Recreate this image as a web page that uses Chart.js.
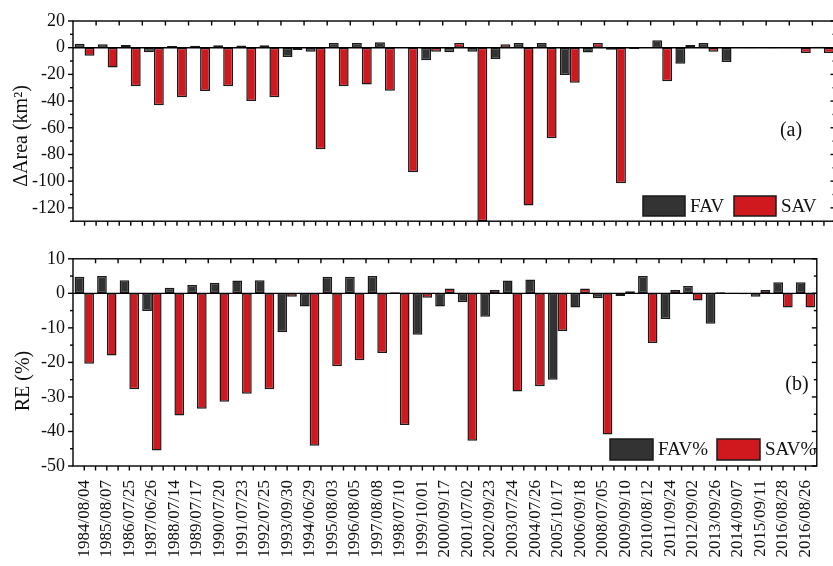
<!DOCTYPE html>
<html>
<head>
<meta charset="utf-8">
<script src="https://cdn.jsdelivr.net/npm/chart.js@4/dist/chart.umd.min.js"></script>
<style>
  html, body { margin: 0; padding: 0; background: #fff; overflow: hidden; }
  #wrap { position: relative; width: 833px; height: 566px; overflow: hidden; background: #fff; }
  #ca { position: absolute; left: 0; top: 0; }
  #cb { position: absolute; left: 0; top: 240px; }
</style>
</head>
<body>
<div id="wrap">
  <canvas id="ca" width="840" height="240"></canvas>
  <canvas id="cb" width="840" height="326"></canvas>
</div>
<script>
// Acquisition dates
const dates = [
  '1984/08/04','1985/08/07','1986/07/25','1987/06/26','1988/07/14','1989/07/17',
  '1990/07/20','1991/07/23','1992/07/25','1993/09/30','1994/06/29','1995/08/03',
  '1996/08/05','1997/08/08','1998/07/10','1999/10/01','2000/09/17','2001/07/02',
  '2002/09/23','2003/07/24','2004/07/26','2005/10/17','2006/09/18','2008/07/05',
  '2009/09/10','2010/08/12','2011/09/24','2012/09/02','2013/09/26','2014/09/07',
  '2015/09/11','2016/08/28','2016/08/26'
];

// (a) area differences, km²
const favArea = [
  3.0, 2.6, 2.0, -3.4, 1.2, 1.4, 1.9, 1.7, 1.9, -7.0, -3.0, 3.6,
  3.6, 4.0, 0.5, -9.4, -3.4, -3.0, -8.4, 3.6, 3.6, -20.4, -3.6, -1.5,
  -1.0, 5.5, -12.0, 3.6, -10.8, -0.5, -0.5, 0.5, 0.8
];
const savArea = [
  -6.0, -14.9, -28.8, -43.2, -37.2, -32.4, -28.8, -40.0, -37.2, -1.8, -76.0, -28.8,
  -27.6, -32.2, -93.4, -3.0, 3.6, -130.0, 2.6, -118.3, -67.9, -26.2, 3.6, -101.5,
  0.5, -25.2, 2.0, -3.0, 0.5, -0.3, 0.5, -4.0, -4.0
];

// (b) relative errors, %
const favRE = [
  4.8, 5.0, 3.8, -5.1, 1.6, 2.4, 3.1, 3.7, 3.8, -11.3, -3.8, 4.8,
  4.8, 5.0, 0.3, -12.0, -3.8, -2.6, -6.8, 3.7, 4.0, -25.0, -4.1, -1.4,
  -0.8, 5.0, -7.4, 2.1, -8.8, 0.2, -1.0, 3.2, 3.2
];
const savRE = [
  -20.4, -18.0, -27.8, -45.5, -35.4, -33.4, -31.4, -29.1, -27.8, -1.0, -44.1, -21.1,
  -19.4, -17.3, -38.1, -1.3, 1.4, -42.7, 1.0, -28.4, -26.9, -10.9, 1.4, -40.9,
  0.6, -14.4, 1.0, -2.1, 0.3, -0.3, 1.0, -4.1, -4.1
];

// Axis tick labels
const areaTicks = [20, 0, -20, -40, -60, -80, -100, -120];
const reTicks = [10, 0, -10, -20, -30, -40, -50];

const SERIF = "'Liberation Serif', 'DejaVu Serif', serif";
const DARK = '#333333';
const RED = '#d0191e';
const EDGE = '#1a1a1a';

// Frame, zero line, tick marks, legend, panel tag and y title
const framePlugin = {
  id: 'frame',
  afterDatasetsDraw(chart, args, o) {
    const { ctx, chartArea: a, scales: { x, y } } = chart;
    ctx.save();
    ctx.strokeStyle = '#000';
    ctx.lineWidth = 1.4;
    const seg = (x1, y1, x2, y2) => { ctx.beginPath(); ctx.moveTo(x1, y1); ctx.lineTo(x2, y2); ctx.stroke(); };

    // zero line
    const y0 = y.getPixelForValue(0);
    seg(a.left, y0, a.right, y0);

    // frame
    ctx.strokeRect(a.left, a.top, a.right - a.left, a.bottom - a.top);

    // y ticks: majors + minors halfway between
    const step = o.step;
    for (let v = Math.ceil(y.min / (step / 2)) * (step / 2); v <= y.max + 1e-9; v += step / 2) {
      const p = y.getPixelForValue(v);
      const major = Math.abs(Math.round(v / step) * step - v) < 1e-6;
      const len = major ? 5 : 3;
      seg(a.left, p, a.left - len, p);
      seg(a.right, p, a.right - len, p);
    }

    // x ticks: boundaries and centres
    const n = x.getLabels().length;
    const w = x.getPixelForValue(1) - x.getPixelForValue(0);
    for (let i = 0; i < n; i++) {
      const c = x.getPixelForValue(i);
      const b = c - w / 2;
      if (i > 0) {
        seg(b, a.top, b, a.top + 4.5);
        seg(b, a.bottom, b, a.bottom + 4.5);
      }
      seg(c, a.bottom, c, a.bottom + 4.5);
    }

    // legend
    ctx.font = '19px ' + SERIF;
    ctx.textBaseline = 'middle';
    ctx.textAlign = 'left';
    ctx.lineWidth = 1.5;
    o.legend.forEach(item => {
      ctx.fillStyle = item.color;
      ctx.fillRect(item.x, item.y, item.w, item.h);
      ctx.strokeStyle = EDGE;
      ctx.strokeRect(item.x, item.y, item.w, item.h);
      ctx.fillStyle = '#111';
      ctx.fillText(item.text, item.x + item.w + 5, item.y + item.h / 2 + 1);
    });

    // panel tag
    ctx.font = '20px ' + SERIF;
    ctx.textAlign = 'center';
    ctx.fillText(o.tag.text, o.tag.x, o.tag.y);

    // y title
    ctx.translate(o.title.x, o.title.y);
    ctx.rotate(-Math.PI / 2);
    ctx.font = '20px ' + SERIF;
    ctx.fillText(o.title.text, 0, 0);
    ctx.restore();
  }
};

function yScale(min, max, ticks, width) {
  return {
    min, max,
    afterBuildTicks: s => { s.ticks = ticks.map(v => ({ value: v })); },
    afterFit: s => { s.width = width; },
    ticks: {
      font: { family: SERIF, size: 18 },
      color: '#111',
      padding: 8,
      callback: v => String(v)
    },
    grid: { display: false, drawTicks: false, tickLength: 0 },
    border: { display: false }
  };
}

function barSets(a, b, la, lb) {
  const common = {
    borderColor: EDGE, borderWidth: 1.5, borderSkipped: false,
    categoryPercentage: 0.86, barPercentage: 1.0
  };
  return [
    Object.assign({ label: la, data: a, backgroundColor: DARK }, common),
    Object.assign({ label: lb, data: b, backgroundColor: RED }, common)
  ];
}

const base = {
  responsive: false,
  animation: false,
  devicePixelRatio: 1,
  plugins: { legend: { display: false }, tooltip: { enabled: false } }
};

new Chart(document.getElementById('ca'), {
  type: 'bar',
  data: { labels: dates, datasets: barSets(favArea, savArea, 'FAV', 'SAV') },
  options: Object.assign({}, base, {
    layout: { padding: { top: 21, right: 4.5, bottom: 11, left: 0 } },
    scales: {
      x: { display: false },
      y: yScale(-130, 20, areaTicks, 73)
    },
    plugins: Object.assign({}, base.plugins, {
      frame: {
        step: 20,
        legend: [
          { text: 'FAV', color: DARK, x: 643, y: 196, w: 42, h: 20 },
          { text: 'SAV', color: RED, x: 734, y: 196, w: 42, h: 20 }
        ],
        tag: { text: '(a)', x: 791, y: 131 },
        title: { text: 'ΔArea (km²)', x: 22, y: 136 }
      }
    })
  }),
  plugins: [framePlugin]
});

new Chart(document.getElementById('cb'), {
  type: 'bar',
  data: { labels: dates, datasets: barSets(favRE, savRE, 'FAV%', 'SAV%') },
  options: Object.assign({}, base, {
    layout: { padding: { top: 18, right: 4.5, bottom: 0, left: 0 } },
    scales: {
      x: {
        afterFit: s => { s.height = 100; },
        ticks: {
          font: { family: SERIF, size: 17 },
          color: '#111',
          minRotation: 90, maxRotation: 90,
          autoSkip: false,
          padding: 14
        },
        grid: { display: false, drawTicks: false, tickLength: 0 },
        border: { display: false }
      },
      y: yScale(-50, 10, reTicks, 73)
    },
    plugins: Object.assign({}, base.plugins, {
      frame: {
        step: 10,
        legend: [
          { text: 'FAV%', color: DARK, x: 610, y: 199, w: 43, h: 21 },
          { text: 'SAV%', color: RED, x: 717, y: 199, w: 43, h: 21 }
        ],
        tag: { text: '(b)', x: 797, y: 145 },
        title: { text: 'RE (%)', x: 24, y: 141 }
      }
    })
  }),
  plugins: [framePlugin]
});
</script>
</body>
</html>
